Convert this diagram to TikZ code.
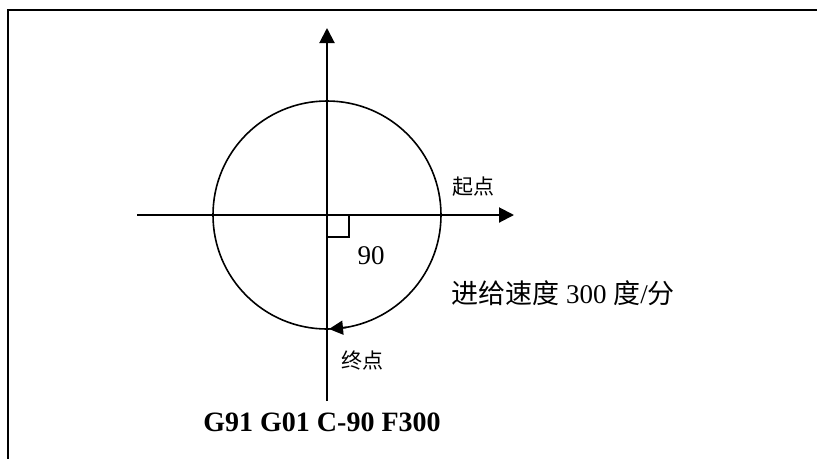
\documentclass[tikz,border=0pt]{standalone}
\usepackage{fontspec}
\setmainfont{Liberation Serif}
\newfontfamily\cjk{Noto Sans CJK SC}
\usetikzlibrary{arrows.meta}

\begin{document}
\begin{tikzpicture}[x=1pt, y=-1pt,
		axis/.style={line width=2pt, -{Triangle[width=15pt,length=15pt]}},
		thin line/.style={line width=1.6pt},
		small label/.style={font=\fontsize{21}{23}\selectfont\cjk},
		big label/.style={font=\fontsize{27}{30}\selectfont}]
		%%%%% START %%%%%
		
		\useasboundingbox (0, 0) rectangle (817, 459);
		\draw[line width=1.5pt] (817, 10) -- (8, 10) -- (8, 459);
		
		\coordinate (O) at (327, 215);
		\coordinate (xleft) at (137, 215);
		\coordinate (xright) at (514, 215);
		\coordinate (ytop) at (327, 28);
		\coordinate (ybottom) at (327, 401);
		
		\draw[axis] (xleft) -- (xright);
		\draw[axis] (ybottom) -- (ytop);
		
		\draw[thin line] (O) circle (114);
		\draw[thin line, -{Triangle[width=14pt,length=14pt]}] (347, 327.3) -- (329, 329);
		\draw[thin line] (O) rectangle ++(22, 22);
		
		\node[big label] (angle) at (371, 256) {90};
		\node[small label] (start) at (473, 187) {起点};
		\node[small label] (end) at (362, 360) {终点};
		\node[big label] (feed) at (563, 293) {{\cjk 进给速度} 300 {\cjk 度}/{\cjk 分}};
		\node[big label, font=\fontsize{28}{30}\selectfont\bfseries] (code) at (322, 422) {G91 G01 C-90 F300};
		
		%%%%% END %%%%%
\end{tikzpicture}
\end{document}
